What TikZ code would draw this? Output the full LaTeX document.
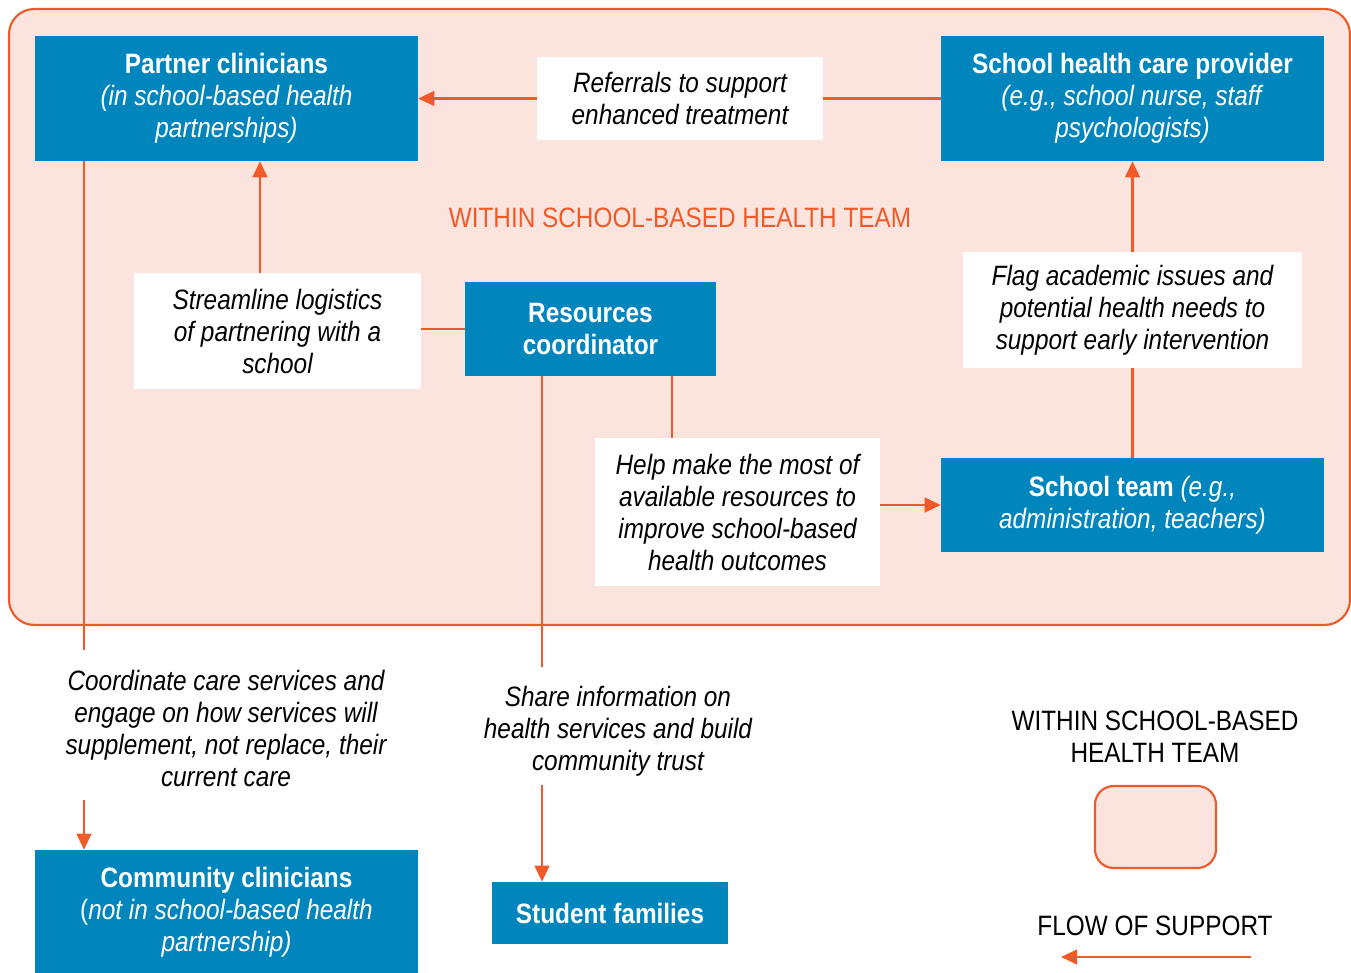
\documentclass[tikz,border=0pt]{standalone}
\usepackage{fontspec}
\setmainfont{Liberation Sans}[FakeStretch=0.87]
\usetikzlibrary{arrows.meta}
\definecolor{sbOrange}{HTML}{F05A28}
\definecolor{sbPink}{HTML}{FCE4DE}
\definecolor{sbBlue}{HTML}{0086BD}
\newcommand\lblfont{\fontsize{21}{24}\selectfont}
\pgfdeclarelayer{bg}
\pgfdeclarelayer{conn}
\pgfsetlayers{bg,conn,main}
\begin{document}
\begin{tikzpicture}[x=0.75pt,y=-0.75pt,
  bluebox/.style 2 args={fill=sbBlue, text=white, minimum width=#1*0.75pt,
    minimum height=#2*0.75pt, inner sep=0pt, align=center, font=\lblfont},
  notebox/.style 2 args={fill=white, text=black, minimum width=#1*0.75pt,
    minimum height=#2*0.75pt, inner sep=0pt, align=center, font=\lblfont\itshape},
  freetext/.style={text=black, inner sep=0pt, align=center, font=\lblfont},
  link/.style={draw=sbOrange, line width=1.6pt},
  flow/.style={link, -{Triangle[length=12pt,width=11pt]}},
  teamzone/.style={draw=sbOrange, fill=sbPink, line width=1.6pt}]
\useasboundingbox (0,0) rectangle (1351,973);

% shaded area of the school-based health team
\begin{pgfonlayer}{bg}
  \draw[teamzone, rounded corners=19pt] (9,9) rectangle (1350,625);
\end{pgfonlayer}

% boxes
\node[bluebox={383}{125}] (partner) at (226.5,98.5)
  {\textbf{Partner clinicians}\\\textit{(in school-based health}\\\textit{partnerships)}};
\node[bluebox={383}{125}] (provider) at (1132.5,98.5)
  {\textbf{School health care provider}\\\textit{(e.g., school nurse, staff}\\\textit{psychologists)}};
\node[bluebox={251}{94}] (coord) at (590.5,329)
  {\textbf{Resources}\\\textbf{coordinator}};
\node[bluebox={383}{94}] (team) at (1132.5,505)
  {\textbf{School team} \textit{(e.g.,}\\\textit{administration, teachers)}};
\node[bluebox={383}{124}] (community) at (226.5,912)
  {\textbf{Community clinicians}\\(\textit{not in school-based health}\\\textit{partnership)}};
\node[bluebox={236}{62}] (families) at (610,913)
  {\textbf{Student families}};

% labels on the connectors
\node[notebox={286}{83}] (referrals) at (680,98.5)
  {Referrals to support\\enhanced treatment};
\node[notebox={287}{116}] (streamline) at (277.5,331)
  {Streamline logistics\\of partnering with a\\school};
\node[notebox={339}{116}] (flag) at (1132.5,310)
  {Flag academic issues and\\potential health needs to\\support early intervention};
\node[notebox={285}{148}] (help) at (737.5,512)
  {Help make the most of\\available resources to\\improve school-based\\health outcomes};
\node[freetext, font=\lblfont\itshape] (coordcare) at (226,728)
  {Coordinate care services and\\engage on how services will\\supplement, not replace, their\\current care};
\node[freetext, font=\lblfont\itshape] (share) at (618,731)
  {Share information on\\health services and build\\community trust};

\node[freetext, text=sbOrange] (zonetitle) at (680,218)
  {WITHIN SCHOOL-BASED HEALTH TEAM};

% legend
\node[freetext] (legzone) at (1155,737) {WITHIN SCHOOL-BASED\\HEALTH TEAM};
\draw[teamzone, rounded corners=14pt] (1095,786) rectangle (1216,868);
\node[freetext] (legflow) at (1155,926) {FLOW OF SUPPORT};

% anchor points for connector ends
\coordinate (xA) at (260,0);
\coordinate (xB) at (672,0);
\coordinate (xC) at (84,0);
\coordinate (xD) at (542,0);
\coordinate (ccTop) at (84,650);
\coordinate (ccBot) at (84,800);
\coordinate (shTop) at (542,667);
\coordinate (shBot) at (542,785);
\coordinate (legA) at (1251,957);
\coordinate (legB) at (1061,957);

% connectors
\begin{pgfonlayer}{conn}
  \draw[flow] (provider.west) -- (partner.east);
  \draw[flow] (streamline.north -| xA) -- (partner.south -| xA);
  \draw[link] (coord.west) -- (streamline.east |- coord.west);
  \draw[flow] (flag.north) -- (provider.south);
  \draw[link] (team.north) -- (flag.south);
  \draw[link] (coord.south -| xB) -- (help.north -| xB);
  \draw[flow] (help.east |- team.west) -- (team.west);
  \draw[link] (partner.south -| xC) -- (ccTop);
  \draw[flow] (ccBot) -- (community.north -| xC);
  \draw[link] (coord.south -| xD) -- (shTop);
  \draw[flow] (shBot) -- (families.north -| xD);
  \draw[flow] (legA) -- (legB);
\end{pgfonlayer}
\end{tikzpicture}
\end{document}
